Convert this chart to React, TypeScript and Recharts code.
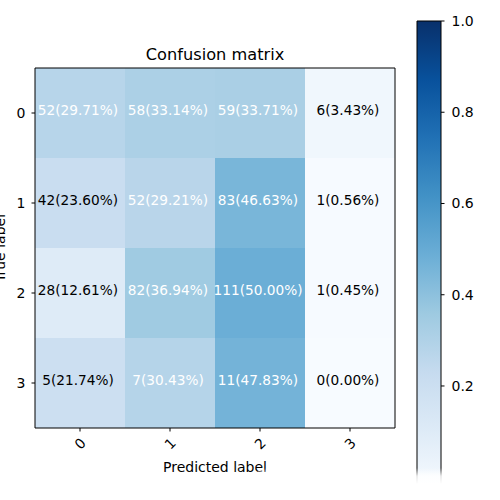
import React from "react";
import { ComposedChart, XAxis, YAxis, ReferenceArea } from "recharts";

const classes = ["0", "1", "2", "3"];
const counts = [
  [52, 58, 59, 6],
  [42, 52, 83, 1],
  [28, 82, 111, 1],
  [5, 7, 11, 0],
];
const colorbarTicks = [0.2, 0.4, 0.6, 0.8, 1.0];

// matplotlib "Blues"
const BLUES = ["#f7fbff", "#deebf7", "#c6dbef", "#9ecae1", "#6baed6", "#4292c6", "#2171b5", "#08519c", "#08306b"];

function blues(t: number) {
  const s = Math.max(0, Math.min(1, t)) * (BLUES.length - 1);
  const i = Math.min(Math.floor(s), BLUES.length - 2);
  const f = s - i;
  const a = BLUES[i], b = BLUES[i + 1];
  const ch = (h: string, k: number) => parseInt(h.slice(1 + k * 2, 3 + k * 2), 16);
  const c = [0, 1, 2].map((k) => Math.round(ch(a, k) + (ch(b, k) - ch(a, k)) * f));
  return `rgb(${c.join(",")})`;
}

const cells = counts.flatMap((row, i) => {
  const total = row.reduce((a, b) => a + b, 0);
  return row.map((n, j) => ({ row: i, col: j, count: n, frac: n / total }));
});
const thresh = Math.max(...cells.map((c) => c.frac)) / 2;

const font = "DejaVu Sans, sans-serif";

const XTick = ({ x, y, payload }: any) => (
  <text
    transform={`translate(${x},${y + 10}) rotate(-45)`}
    textAnchor="middle"
    dominantBaseline="central"
    fill="#000"
    fontSize={14}
    fontFamily={font}
  >
    {classes[payload.value]}
  </text>
);

const YTitle = ({ viewBox }: any) => (
  <text
    transform={`translate(4.5,${viewBox.y + viewBox.height / 2}) rotate(-90)`}
    textAnchor="middle"
    fill="#000"
    fontSize={14}
    fontFamily={font}
  >
    True label
  </text>
);

export default function App() {
  return (
    <div style={{ position: "absolute", left: 0, top: 0, width: 500, height: 500, background: "#fff", fontFamily: font }}>
      <div style={{ position: "absolute", left: 0, top: 0 }}>
        <ComposedChart width={500} height={500} data={cells} margin={{ top: 68, right: 105, bottom: 0, left: 0 }}>
          <XAxis
            dataKey="col"
            type="number"
            domain={[-0.5, 3.5]}
            ticks={[0, 1, 2, 3]}
            height={72}
            tickSize={3.5}
            tickLine={{ stroke: "#000" }}
            axisLine={false}
            tick={<XTick />}
            label={{ value: "Predicted label", position: "insideBottom", offset: 28, fill: "#000", fontSize: 14, fontFamily: font }}
          />
          <YAxis
            dataKey="row"
            type="number"
            domain={[-0.5, 3.5]}
            reversed
            ticks={[0, 1, 2, 3]}
            tickFormatter={(v: number) => classes[v]}
            width={35}
            tickSize={3.5}
            tickMargin={6}
            tickLine={{ stroke: "#000" }}
            axisLine={false}
            tick={{ fill: "#000", fontSize: 14, fontFamily: font }}
            label={<YTitle />}
          />
          {cells.map((c) => (
            <ReferenceArea
              key={`${c.row}-${c.col}`}
              x1={c.col - 0.5}
              x2={c.col + 0.5}
              y1={c.row - 0.5}
              y2={c.row + 0.5}
              fill={blues(c.frac)}
              fillOpacity={1}
              stroke="none"
              label={(p: any) => (
                <text
                  x={p.viewBox.x + p.viewBox.width / 2 - 2}
                  y={p.viewBox.y + p.viewBox.height / 2 + 1.5}
                  textAnchor="middle"
                  fill={c.frac > thresh ? "#fff" : "#000"}
                  fontSize={13.7}
                  fontFamily={font}
                >
                  {`${c.count}(${(c.frac * 100).toFixed(2)}%)`}
                </text>
              )}
            />
          ))}
          <ReferenceArea
            x1={-0.5}
            x2={3.5}
            y1={-0.5}
            y2={3.5}
            fill="none"
            stroke="#000"
            strokeWidth={1}
            label={{ value: "Confusion matrix", position: "top", offset: 8, fill: "#000", fontSize: 16.2, fontFamily: font }}
          />
        </ComposedChart>
      </div>
      <div style={{ position: "absolute", left: 0, top: 0 }}>
        <ComposedChart width={500} height={500} data={colorbarTicks.map((v) => ({ x: 0.5, v }))} margin={{ top: 21, right: 0, bottom: 10, left: 417 }}>
          <defs>
            <linearGradient id="cbGrad" x1="0" y1="1" x2="0" y2="0">
              {BLUES.map((c, i) => (
                <stop key={i} offset={i / (BLUES.length - 1)} stopColor={c} />
              ))}
            </linearGradient>
          </defs>
          <XAxis dataKey="x" type="number" domain={[0, 1]} hide />
          <YAxis
            dataKey="v"
            orientation="right"
            type="number"
            domain={[-0.028, 1]}
            ticks={colorbarTicks}
            tickFormatter={(v: number) => v.toFixed(1)}
            width={59}
            tickSize={3.5}
            tickMargin={7}
            tickLine={{ stroke: "#000" }}
            axisLine={false}
            tick={{ fill: "#000", fontSize: 14, fontFamily: font }}
          />
          <ReferenceArea x1={0} x2={1} y1={-0.028} y2={1} fill="url(#cbGrad)" fillOpacity={1} stroke="#000" strokeWidth={1} ifOverflow="visible" />
        </ComposedChart>
      </div>
      <div
        style={{
          position: "absolute",
          left: 258,
          top: 468,
          width: 242,
          height: 32,
          background: "linear-gradient(to bottom, rgba(255,255,255,0) 0px, rgba(255,255,255,0.85) 8px, #fff 16px)",
        }}
      />
    </div>
  );
}
